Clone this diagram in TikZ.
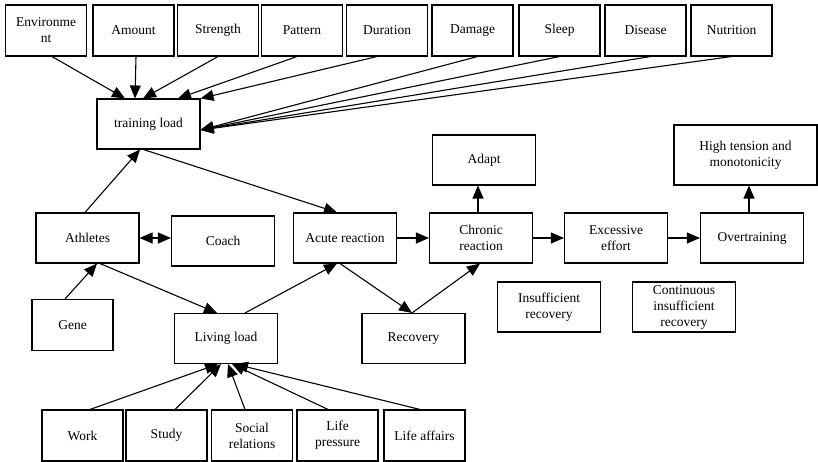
\documentclass[tikz,border=0pt]{standalone}
\usepackage{fontspec}
\setmainfont{Liberation Serif}
\usetikzlibrary{arrows.meta}

\begin{document}
\begin{tikzpicture}[x=1pt, y=-1pt, line width=1.1pt, font=\fontsize{13.5}{16}\selectfont, >={Triangle[length=13pt,width=11pt]}, box/.style={draw, align=center, minimum width=81pt, minimum height=51pt, inner sep=2pt}, wide/.style={box, minimum width=103pt, minimum height=50pt}, arr/.style={->}]
  \useasboundingbox (0,0) rectangle (818,462);
  % factors of the training load
  \node[box] (env) at (46,30.5) {Environme\\nt};
  \node[box] (amount) at (133.5,30.5) {Amount};
  \node[box] (strength) at (218,30.5) {Strength};
  \node[box] (pattern) at (302,30.5) {Pattern};
  \node[box] (duration) at (387,30.5) {Duration};
  \node[box] (damage) at (472.5,30.5) {Damage};
  \node[box] (sleep) at (559.5,30.5) {Sleep};
  \node[box] (disease) at (645.5,30.5) {Disease};
  \node[box] (nutrition) at (731.5,30.5) {Nutrition};
  \node[wide] (tl) at (148.5,124) {training load};
  % main chain
  \node[wide] (athletes) at (87.5,238) {Athletes};
  \node[wide] (coach) at (223,241) {Coach};
  \node[wide] (acute) at (345,238) {Acute reaction};
  \node[wide] (chronic) at (481,238) {Chronic\\reaction};
  \node[wide] (excessive) at (616,238) {Excessive\\effort};
  \node[wide] (over) at (752,238) {Overtraining};
  \node[wide] (adapt) at (484,160) {Adapt};
  \node[wide, minimum width=143pt, minimum height=60pt] (tension) at (745.5,155) {High tension and\\monotonicity};
  \node[wide] (insuff) at (549,307) {Insufficient\\recovery};
  \node[wide] (contin) at (684,307) {Continuous\\insufficient\\recovery};
  \node[box] (gene) at (72.5,325) {Gene};
  \node[wide] (living) at (226,338.5) {Living load};
  \node[wide] (recovery) at (413.5,338.5) {Recovery};
  % factors of the living load
  \node[box] (work) at (82.5,435.5) {Work};
  \node[box] (study) at (166.5,435.5) {Study};
  \node[box] (social) at (252,435.5) {Social\\relations};
  \node[box] (pressure) at (337.5,435.5) {Life\\pressure};
  \node[box] (affairs) at (424.5,435.5) {Life affairs};

  \draw[arr] ([xshift=6pt]env.south) -- ([xshift=-23.5pt]tl.north);
  \draw[arr] ([xshift=2.5pt]amount.south) -- ([xshift=-13.5pt]tl.north);
  \draw[arr] (strength.south) -- ([xshift=-5.5pt]tl.north);
  \draw[arr] ([xshift=-5pt]pattern.south) -- ([xshift=29.5pt]tl.north);
  \draw[arr] ([xshift=-10pt]duration.south) -- (tl.north east);
  \draw[arr] ([xshift=5pt]damage.south) -- ([yshift=-6pt]tl.east);
  \draw[arr] (sleep.south) -- ([yshift=-6pt]tl.east);
  \draw[arr] ([xshift=5pt]disease.south) -- ([yshift=-6pt]tl.east);
  \draw[arr] (nutrition.south) -- ([yshift=-6pt]tl.east);

  \draw[arr] ([xshift=-2.5pt]athletes.north) -- ([xshift=-8.5pt]tl.south);
  \draw[arr] ([xshift=-5pt]tl.south) -- ([xshift=-8pt]acute.north);
  \draw[<->] (athletes) -- (athletes -| coach.west);
  \draw[arr] ([xshift=-7.5pt]gene.north) -- ([xshift=9.5pt]athletes.south);
  \draw[arr] ([xshift=12.5pt]athletes.south) -- ([xshift=-9pt]living.north);
  \draw[arr] ([xshift=19pt]living.north) -- ([xshift=-8pt]acute.south);
  \draw[arr] ([xshift=-5pt]acute.south) -- ([xshift=-1.5pt]recovery.north);
  \draw[arr] ([xshift=-1.5pt]recovery.north) -- ([xshift=-1pt]chronic.south);
  \draw[arr] (acute) -- (chronic);
  \draw[arr] ([xshift=-3pt]chronic.north) -- ([xshift=-3pt]chronic.north |- adapt.south);
  \draw[arr] (chronic) -- (excessive);
  \draw[arr] (excessive) -- (over);
  \draw[arr] ([xshift=-3pt]over.north) -- ([xshift=-3pt]over.north |- tension.south);

  \draw[arr] ([xshift=7.5pt]work.north) -- ([xshift=-8pt]living.south);
  \draw[arr] ([xshift=8.5pt]study.north) -- ([xshift=-5pt]living.south);
  \draw[arr] ([xshift=-7pt]social.north) -- ([xshift=2pt]living.south);
  \draw[arr] ([xshift=-9.5pt]pressure.north) -- ([xshift=6pt]living.south);
  \draw[arr] ([xshift=-4.5pt]affairs.north) -- ([xshift=9pt]living.south);
\end{tikzpicture}
\end{document}
